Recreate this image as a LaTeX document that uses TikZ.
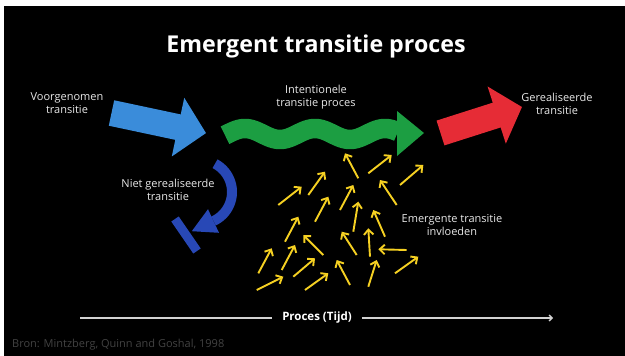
\documentclass[tikz,border=0pt]{standalone}
\usepackage{fontspec}
\setmainfont{Open Sans}
\usetikzlibrary{arrows.meta}
\definecolor{blueA}{RGB}{58,140,218}
\definecolor{greenA}{RGB}{28,158,66}
\definecolor{redA}{RGB}{230,44,54}
\definecolor{darkblueA}{RGB}{40,72,182}
\definecolor{yel}{RGB}{245,208,34}
\definecolor{txtgray}{RGB}{232,232,232}
\definecolor{axisgray}{RGB}{210,210,210}
\definecolor{srcgray}{RGB}{66,66,66}
\begin{document}
\begin{tikzpicture}[x=1pt,y=-1pt,
  lbl/.style={text=txtgray, font=\fontsize{11}{13}\selectfont, align=center, inner sep=0pt},
  yarrow/.style={draw=yel, line width=1.9pt, -{Straight Barb[length=5pt,width=9.5pt]}},
  axisline/.style={draw=axisgray, line width=1.4pt}]
\useasboundingbox (0,0) rectangle (625,356);
\fill[white] (0,0) rectangle (625,356);
\fill[black] (4,6) rectangle (625,356);

% title
\node[font=\fontsize{23.2}{28}\selectfont\bfseries, text=white, inner sep=0pt] (title) at (316,46) {Emergent transitie proces};

% labels
\node[lbl] (voor) at (67,103) {Voorgenomen\\transitie};
\node[lbl] (inten) at (316,97) {Intentionele\\transitie proces};
\node[lbl] (gerea) at (557,104) {Gerealiseerde\\transitie};
\node[lbl] (niet) at (168,190) {Niet gerealiseerde\\transitie};
\node[lbl] (emerg) at (452,225) {Emergente transitie\\invloeden};

% blue arrow
\begin{scope}[shift={(111.5,113)}, rotate=-12]
  \fill[blueA] (0,-13) -- (68,-13) -- (68,-30) -- (96.6,0) -- (68,30) -- (68,13) -- (0,13) -- cycle;
\end{scope}

% red arrow
\begin{scope}[shift={(440.5,133)}, rotate=17.7]
  \fill[redA] (0,-13) -- (59,-13) -- (59,-30) -- (85.5,0) -- (59,30) -- (59,13) -- (0,13) -- cycle;
\end{scope}

% green wavy arrow
\draw[greenA, line width=19.5pt] plot[domain=225:398, samples=90, smooth] (\x,{134-5.5*cos(5.142857*(\x-245))});
\fill[greenA] (397,111) -- (424,133) -- (397,156) -- cycle;

% dark blue curved arrow (not realised)
\draw[darkblueA, line width=10pt] plot[domain=62:-65, samples=40, smooth] ({200+32*cos(\x)},{192-32*sin(\x)});
\fill[darkblueA] (208.0,209.2) -- (191.8,231.2) -- (219.0,232.8) -- cycle;
\draw[darkblueA, line width=9pt] (175,219) -- (197,251);

% yellow emergent arrows
\foreach \ax/\ay/\bx/\by in {
  358.3/178.3/345/153.3, 368.3/173.3/391.7/155, 400/185/423.3/165,
  308.3/195/325/171.7, 278.3/205/301.7/186.7, 340/210/353.3/185,
  396.7/205/380/180, 315/221.7/328.3/196.7, 353.3/231.7/358.3/201.7,
  385/236.7/373.3/210, 285/241.7/298.3/216.7, 323.3/255/303.3/235,
  356.7/255/341.7/231.7, 370/256.7/368.3/228.3, 406.7/250/378.3/249.3,
  258.3/273.3/271.7/248.3, 281.7/270/295/245, 293.3/276.7/315/258.3,
  350/285/336.7/260, 368.3/286.7/376.7/260, 395/273.3/418.3/256.7,
  256.7/290/283.3/276.7, 305/290/328.3/273.3}
  {\draw[yarrow] (\ax,\ay) -- (\bx,\by);}

% time axis
\node[font=\fontsize{11.5}{14}\selectfont\bfseries, text=white, inner xsep=10pt, inner ysep=0pt] (proces) at (317,318) {Proces (Tijd)};
\coordinate (axstart) at (80,318);
\coordinate (axend) at (553,318);
\draw[axisline] (axstart) -- (proces.west);
\draw[axisline, -{Straight Barb[length=3pt,width=6pt]}] (proces.east) -- (axend);

% source
\node[anchor=west, font=\fontsize{11}{13}\selectfont, text=srcgray, inner sep=0pt] (bron) at (12,345) {Bron: Mintzberg, Quinn and Goshal, 1998};
\end{tikzpicture}
\end{document}
